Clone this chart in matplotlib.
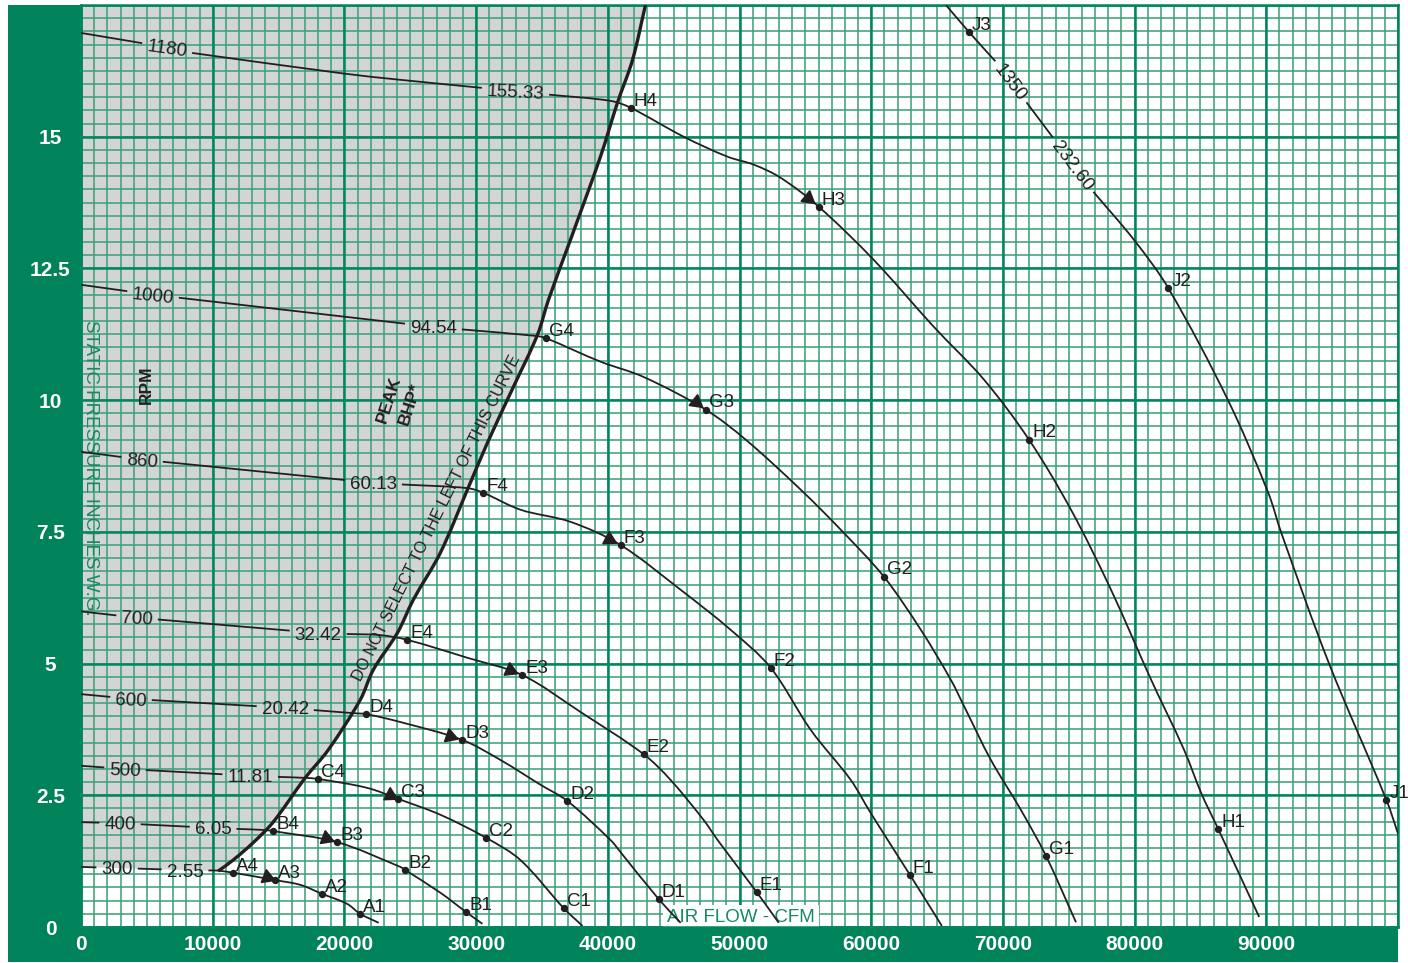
import numpy as np
import matplotlib
matplotlib.use('Agg')
import matplotlib.pyplot as plt
from matplotlib.patches import Rectangle, PathPatch
from matplotlib.path import Path

plt.rcParams['font.family'] = ['Liberation Sans', 'DejaVu Sans']

# ---- fan curves: air flow (cfm) vs static pressure (in. w.g.) ----
A_cfm = [0, 2740, 7900, 10400, 11550, 14750, 16650, 18300, 20200, 21200, 22600]
A_sp = [1.14, 1.12, 1.08, 1.07, 1.03, 0.89, 0.80, 0.63, 0.44, 0.25, 0.08]
A_dots = [4, 5, 7, 9]

B_cfm = [0, 2960, 10030, 13990, 14600, 19460, 24250, 24630, 27290, 29260, 30480]
B_sp = [1.99, 1.97, 1.88, 1.84, 1.82, 1.61, 1.14, 1.08, 0.65, 0.28, 0.06]
B_dots = [4, 5, 7, 9]

C_cfm = [0, 3340, 12850, 17030, 18010, 21740, 24100, 27290, 30780, 33370, 36640, 38080]
C_sp = [3.06, 3.00, 2.87, 2.83, 2.81, 2.64, 2.43, 2.13, 1.69, 1.27, 0.36, 0.02]
C_dots = [4, 6, 8, 10]

D_cfm = [0, 3800, 15510, 20600, 21660, 24250, 28960, 31850, 34890, 36940,
         40210, 40970, 43860, 45530]
D_sp = [4.42, 4.33, 4.16, 4.06, 4.04, 3.89, 3.55, 3.17, 2.70, 2.39,
        1.65, 1.42, 0.53, 0.08]
D_dots = [4, 6, 9, 12]

E_cfm = [0, 4260, 18010, 22730, 24780, 29340, 33520, 37930, 42720, 44770,
         47280, 48340, 51310, 52980]
E_sp = [5.99, 5.87, 5.58, 5.54, 5.45, 5.11, 4.78, 4.08, 3.28, 2.79,
        2.03, 1.65, 0.66, 0.08]
E_dots = [4, 6, 8, 12]

F_cfm = [0, 4640, 22200, 29340, 30560, 33370, 37170, 40970, 45530, 49330,
         52370, 55410, 58450, 59970, 62940, 65370]
F_sp = [9.02, 8.87, 8.43, 8.33, 8.24, 7.92, 7.69, 7.25, 6.40, 5.64,
        4.92, 3.74, 2.79, 2.16, 0.99, 0.02]
F_dots = [4, 7, 10, 14]

G_cfm = [0, 5470, 16650, 26760, 34510, 35270, 39450, 42720, 47430, 50470,
         54650, 57690, 60960, 63770, 66050, 67190, 69090, 71370, 73270, 75550]
G_sp = [12.19, 12.00, 11.68, 11.39, 11.22, 11.18, 10.73, 10.44, 9.82, 9.25,
        8.30, 7.54, 6.65, 5.64, 4.69, 4.12, 3.17, 2.22, 1.35, 0.09]
G_dots = [5, 8, 12, 18]

H_cfm = [0, 5020, 8440, 19920, 24250, 30330, 40210, 41730, 45760, 49100,
         51080, 53130, 56020, 60200, 64760, 68560, 71980, 75170, 78210, 81260,
         83760, 85060, 86350, 89460]
H_sp = [16.97, 16.76, 16.59, 16.20, 16.08, 15.93, 15.68, 15.55, 15.00, 14.62,
        14.47, 14.22, 13.67, 12.66, 11.39, 10.39, 9.25, 7.92, 6.40, 4.69,
        3.36, 2.54, 1.86, 0.19]
H_dots = [7, 12, 16, 22]

J_cfm = [65670, 67420, 69470, 71830, 73810, 76920, 79960, 82550, 87110, 90150,
         91140, 94780, 99120, 100110]
J_sp = [17.50, 16.99, 16.42, 15.64, 14.98, 13.94, 13.04, 12.13, 9.99, 8.24,
        7.48, 4.99, 2.41, 1.69]
J_dots = [1, 7, 12]

curve_names = ['A', 'B', 'C', 'D', 'E', 'F', 'G', 'H', 'J']

# rpm and peak bhp labels sitting on each curve
rpm_text = ['300', '400', '500', '600', '700', '860', '1000', '1180', '1350']
rpm_cfm = [2740, 2960, 3340, 3800, 4260, 4640, 5470, 6540, 70610]
rpm_sp = [1.12, 1.97, 3.00, 4.33, 5.87, 8.87, 12.00, 16.69, 16.04]
rpm_rot = [0, -1, -2, -2, -3, -4, -6, -8, -53]

bhp_text = ['2.55', '6.05', '11.81', '20.42', '32.42', '60.13', '94.54', '155.33', '232.60']
bhp_cfm = [7900, 10030, 12850, 15510, 18010, 22200, 26760, 32990, 75330]
bhp_sp = [1.08, 1.88, 2.87, 4.16, 5.58, 8.43, 11.39, 15.87, 14.47]
bhp_rot = [0, 0, 0, 0, 0, 0, 0, -3, -53]

# direction arrows ahead of point 3 on curves A..H
arrow_cfm = [14140, 18620, 23490, 28050, 32610, 40060, 46670, 55180]
arrow_sp = [0.95, 1.69, 2.51, 3.63, 4.88, 7.37, 9.97, 13.84]

# "do not select" boundary
bnd_cfm = [10410, 11550, 13070, 14590, 17020, 18770, 21200, 22190, 24020, 25230,
           27280, 29340, 30860, 32830, 34660, 35490, 37160, 39440, 40740, 41880, 42860]
bnd_sp = [1.06, 1.27, 1.60, 1.99, 2.83, 3.36, 4.31, 4.88, 5.58, 6.21,
          7.10, 8.30, 9.19, 10.25, 11.24, 11.90, 13.04, 14.62, 15.65, 16.46, 17.50]

x_ticks = [0, 10000, 20000, 30000, 40000, 50000, 60000, 70000, 80000, 90000]
y_ticks = [0, 2.5, 5, 7.5, 10, 12.5, 15]
y_tick_labels = ['0', '2.5', '5', '7.5', '10', '12.5', '15']

GREEN = '#00835b'
GRID_MAJOR = '#00865e'
GRID_MINOR = '#3ea17a'
SHADE = '#d3d4d6'
INK = '#231f20'
LABEL_GREEN = '#138a62'

# one grid cell is 1000 cfm by 0.25 in. and is square on the page
SX, SY = 1000.0, 0.25


def cut_line(xs, ys, gaps):
    """remove the x-ranges in gaps from a polyline (x increasing)"""
    xs = np.asarray(xs, float)
    ys = np.asarray(ys, float)
    extra = []
    for a, b in gaps:
        extra += [a, b, 0.5 * (a + b)]
    extra = [e for e in extra if xs[0] < e < xs[-1]]
    xn = np.unique(np.r_[xs, extra])
    yn = np.interp(xn, xs, ys)
    for a, b in gaps:
        yn[(xn > a) & (xn < b)] = np.nan
    return xn, yn


def smooth_verts(xs, ys):
    """bezier vertices/codes for a smooth curve through the given points"""
    p = np.column_stack([np.asarray(xs, float) / SX, np.asarray(ys, float) / SY])
    n = len(p)
    if n < 3:
        verts = p
        codes = [Path.MOVETO] + [Path.LINETO] * (n - 1)
    else:
        d = np.linalg.norm(np.diff(p, axis=0), axis=1)
        tang = np.zeros_like(p)
        tang[0] = (p[1] - p[0]) / d[0]
        tang[-1] = (p[-1] - p[-2]) / d[-1]
        for i in range(1, n - 1):
            tang[i] = (p[i + 1] - p[i - 1]) / (d[i - 1] + d[i])
        verts = [p[0]]
        codes = [Path.MOVETO]
        for i in range(n - 1):
            verts += [p[i] + tang[i] * d[i] / 3, p[i + 1] - tang[i + 1] * d[i] / 3, p[i + 1]]
            codes += [Path.CURVE4] * 3
        verts = np.array(verts)
    verts = np.column_stack([verts[:, 0] * SX, verts[:, 1] * SY])
    return verts, list(codes)


def draw_smooth(ax, xs, ys, **kw):
    xs = np.asarray(xs, float)
    ys = np.asarray(ys, float)
    ok = ~np.isnan(ys)
    # split into continuous pieces
    breaks = np.where(np.diff(ok.astype(int)) != 0)[0] + 1
    for seg in np.split(np.arange(len(xs)), breaks):
        if not ok[seg[0]] or len(seg) < 2:
            continue
        v, c = smooth_verts(xs[seg], ys[seg])
        ax.add_patch(PathPatch(Path(v, c), fill=False, **kw))


fig = plt.figure(figsize=(14.08, 9.63), dpi=100)
fig.patches.append(Rectangle((8 / 1408, 1 / 963), 1390 / 1408, 957 / 963,
                             transform=fig.transFigure, facecolor=GREEN,
                             edgecolor='none', zorder=-1))
ax = fig.add_axes([81 / 1408, 36 / 963, 1317 / 1408, 922 / 963])
ax.set_xlim(0, 100000)
ax.set_ylim(0, 17.5)

# graph paper grid
gx = np.arange(0, 100001, 1000)
gy = np.arange(0, 17.51, 0.25)
ax.vlines(gx, 0, 17.5, colors=GRID_MINOR, lw=1.15, zorder=0.5)
ax.hlines(gy, 0, 100000, colors=GRID_MINOR, lw=1.15, zorder=0.5)
ax.vlines(gx[::10], 0, 17.5, colors=GRID_MAJOR, lw=1.8, zorder=0.6)
ax.hlines(gy[::10], 0, 100000, colors=GRID_MAJOR, lw=1.8, zorder=0.6)
for s in ax.spines.values():
    s.set_color(GRID_MAJOR)
    s.set_linewidth(1.8)

# ticks
ax.set_xticks(x_ticks)
ax.set_xticklabels([str(v) for v in x_ticks], fontweight='bold')
ax.set_yticks(y_ticks)
ax.set_yticklabels(y_tick_labels, fontweight='bold', ha='center')
ax.tick_params(length=0, labelcolor='white', labelsize=15)
ax.tick_params(axis='x', pad=6)
ax.tick_params(axis='y', pad=22)

# shaded "do not select" region, bounded by the smooth boundary curve
bv, bc = smooth_verts(bnd_cfm, bnd_sp)
shade_verts = np.vstack([[0, 1.14], bv, [0, 17.5], [0, 1.14]])
shade_codes = [Path.MOVETO, Path.LINETO] + bc[1:] + [Path.LINETO, Path.CLOSEPOLY]
ax.add_patch(PathPatch(Path(shade_verts, shade_codes), facecolor=SHADE,
                       edgecolor='none', zorder=0.2))
draw_smooth(ax, bnd_cfm, bnd_sp, edgecolor=INK, lw=2.4, zorder=3, capstyle='butt')

# text annotations
ax.text(720, 8.71, 'STATIC PRESSURE INCHES W.G.', rotation=-90, color=LABEL_GREEN,
        fontsize=13.5, ha='center', va='center', zorder=2)
ax.text(4940, 10.29, 'RPM', rotation=90, color=INK, fontsize=12.5,
        fontweight='bold', ha='center', va='center', zorder=2)
ax.text(23410, 10.01, 'PEAK', rotation=72, color=INK, fontsize=12.5,
        fontweight='bold', ha='center', va='center', rotation_mode='anchor', zorder=2)
ax.text(25010, 9.93, 'BHP*', rotation=72, color=INK, fontsize=12.5,
        fontweight='bold', ha='center', va='center', rotation_mode='anchor', zorder=2)
ax.text(26980, 7.77, 'DO NOT SELECT TO THE LEFT OF THIS CURVE', rotation=63.8,
        color=INK, fontsize=11.5, ha='center', va='center', rotation_mode='anchor', zorder=2)
ax.text(50090, 0.1, 'AIR FLOW - CFM', color=LABEL_GREEN, fontsize=13.5, ha='center',
        va='baseline', zorder=1, clip_on=True,
        bbox=dict(boxstyle='square,pad=0.22', fc='white', ec='none'))

# rpm / bhp labels on the curves
curve_labels = [[] for _ in curve_names]
for i in range(len(curve_names)):
    for txt, cx, cy, rot in [(rpm_text[i], rpm_cfm[i], rpm_sp[i], rpm_rot[i]),
                             (bhp_text[i], bhp_cfm[i], bhp_sp[i], bhp_rot[i])]:
        t = ax.text(cx, cy, txt, rotation=rot, rotation_mode='anchor', fontsize=13.5,
                    color=INK, ha='center', va='center_baseline', zorder=4)
        curve_labels[i].append(t)

fig.canvas.draw()
renderer = fig.canvas.get_renderer()
inv = ax.transData.inverted()

curve_cfm = [A_cfm, B_cfm, C_cfm, D_cfm, E_cfm, F_cfm, G_cfm, H_cfm, J_cfm]
curve_sp = [A_sp, B_sp, C_sp, D_sp, E_sp, F_sp, G_sp, H_sp, J_sp]
curve_dots = [A_dots, B_dots, C_dots, D_dots, E_dots, F_dots, G_dots, H_dots, J_dots]

for i, name in enumerate(curve_names):
    xs = np.asarray(curve_cfm[i], float)
    ys = np.asarray(curve_sp[i], float)

    # gaps in the line where the labels sit (measured along the label's own direction)
    gaps = []
    for t in curve_labels[i]:
        rot = t.get_rotation()
        t.set_rotation(0)
        w = t.get_window_extent(renderer).width
        t.set_rotation(rot)
        cx = ax.transData.transform(t.get_position())[0]
        half = (w / 2 + 5) * abs(np.cos(np.radians(rot)))
        gaps.append((inv.transform((cx - half, 0))[0], inv.transform((cx + half, 0))[0]))
    lx, ly = cut_line(xs, ys, gaps)
    draw_smooth(ax, lx, ly, edgecolor=INK, lw=1.3, zorder=3)

    # rating points
    idx = curve_dots[i]
    nums = [str(n) for n in range(len(idx), 0, -1)]
    ax.plot(xs[idx], ys[idx], 'o', ms=4.3, color=INK, zorder=5)
    for k, n in zip(idx, nums):
        ax.annotate(name + n, (xs[k], ys[k]), xytext=(2.2, 1.6),
                    textcoords='offset points', ha='left', va='baseline',
                    fontsize=13.5, color=INK, zorder=5, annotation_clip=False)

    # arrow pointing towards point 3
    if i < len(arrow_cfm):
        p0 = ax.transData.transform((arrow_cfm[i], arrow_sp[i]))
        p1 = ax.transData.transform((xs[idx[1]], ys[idx[1]]))
        theta = np.degrees(np.arctan2(p1[1] - p0[1], p1[0] - p0[0]))
        ax.plot(arrow_cfm[i], arrow_sp[i], marker=(3, 0, theta - 90), ms=11.5,
                color=INK, lw=0, zorder=5)

fig.savefig('out.png', dpi=100)
